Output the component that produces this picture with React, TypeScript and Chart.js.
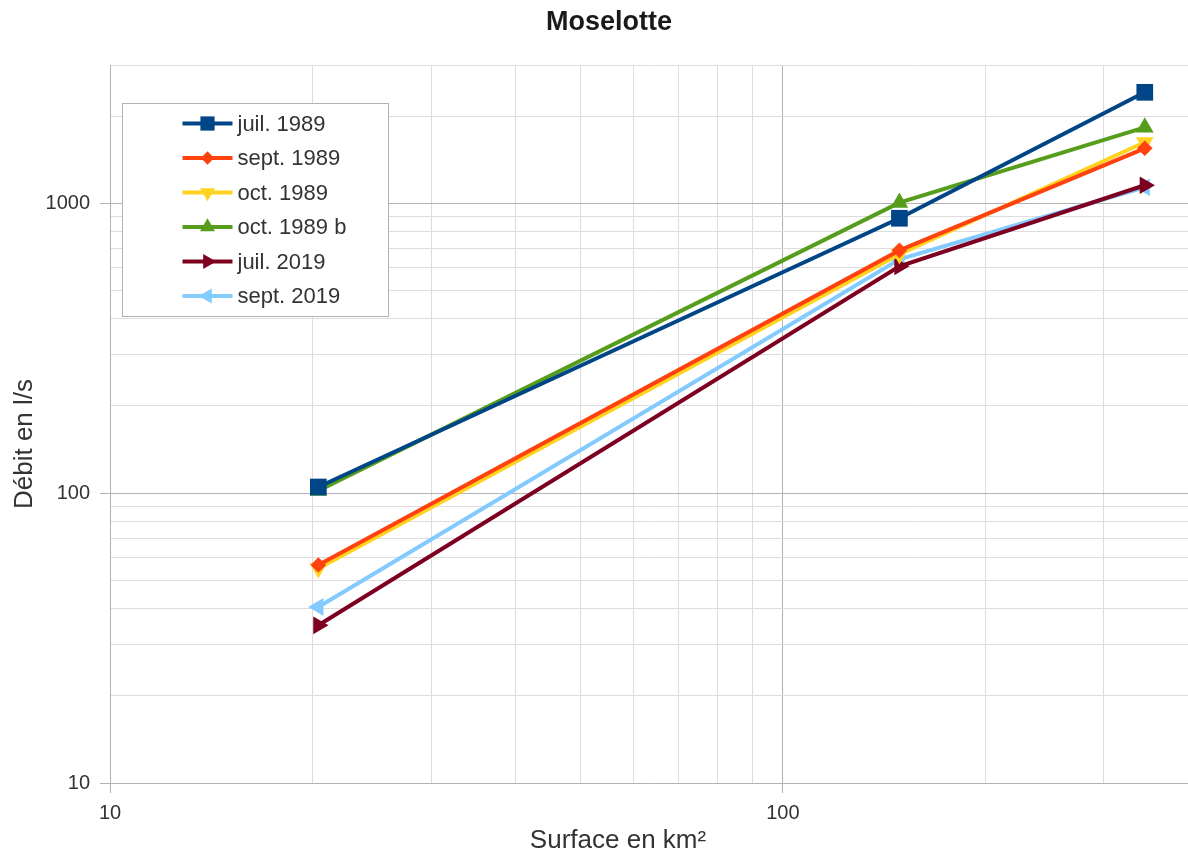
import React, { useEffect, useRef } from 'react';
import { Chart, registerables } from 'chart.js';

Chart.register(...registerables);

// ---------- data ----------
const chartTitle = 'Moselotte';
const xAxisTitle = 'Surface en km²';
const yAxisTitle = 'Débit en l/s';

const surfaces = [20.4, 149, 345];

const seriesNames = ['juil. 1989', 'sept. 1989', 'oct. 1989', 'oct. 1989 b', 'juil. 2019', 'sept. 2019'];
const juil1989 = [105, 888, 2415];
const sept1989 = [56.5, 688, 1548];
const oct1989 = [55, 667, 1624];
const oct1989b = [102, 1005, 1828];
const juil2019 = [35, 606, 1154];
const sept2019 = [40.5, 641, 1136];

const xTickValues = [10, 20, 30, 40, 50, 60, 70, 80, 90, 100, 200, 300, 400];
const yTickValues = [10, 20, 30, 40, 50, 60, 70, 80, 90, 100, 200, 300, 400, 500, 600, 700, 800, 900, 1000, 2000, 3000];
const labeledTicks = [10, 100, 1000];

// ---------- styles ----------
const FONT = '"Liberation Sans", Arial, sans-serif';
const seriesValues = [juil1989, sept1989, oct1989, oct1989b, juil2019, sept2019];
const seriesColors = ['#004586', '#ff420e', '#ffd320', '#579d1c', '#7e0021', '#83caff'];
const seriesShapes = ['rect', 'rectRot', 'triangle', 'triangle', 'triangle', 'triangle'];
const seriesRotations = [0, 0, 180, 0, 90, -90];
const seriesRadii = [11.8, 7.8, 10.2, 10.2, 10.2, 10.2];

const MAJOR_GRID = '#b3b3b3';
const MINOR_GRID = '#dddddd';
const TEXT = '#333333';

function drawMarker(ctx: CanvasRenderingContext2D, shape: string, rotDeg: number, x: number, y: number, r: number, color: string) {
  ctx.save();
  ctx.fillStyle = color;
  ctx.beginPath();
  if (shape === 'rect') {
    const s = r * Math.SQRT1_2;
    ctx.rect(x - s, y - s, 2 * s, 2 * s);
  } else if (shape === 'rectRot') {
    ctx.moveTo(x, y - r);
    ctx.lineTo(x + r, y);
    ctx.lineTo(x, y + r);
    ctx.lineTo(x - r, y);
    ctx.closePath();
  } else {
    let rad = (rotDeg * Math.PI) / 180;
    ctx.moveTo(x + Math.sin(rad) * r, y - Math.cos(rad) * r);
    rad += (2 * Math.PI) / 3;
    ctx.lineTo(x + Math.sin(rad) * r, y - Math.cos(rad) * r);
    rad += (2 * Math.PI) / 3;
    ctx.lineTo(x + Math.sin(rad) * r, y - Math.cos(rad) * r);
    ctx.closePath();
  }
  ctx.fill();
  ctx.restore();
}

const overlayPlugin = {
  id: 'overlay',
  afterDraw(chart: any) {
    const ctx: CanvasRenderingContext2D = chart.ctx;
    const a = chart.chartArea;
    ctx.save();

    // chart title
    ctx.fillStyle = '#1a1a1a';
    ctx.font = `bold 27px ${FONT}`;
    ctx.textAlign = 'center';
    ctx.textBaseline = 'alphabetic';
    ctx.fillText(chartTitle, 609, 30);

    // x axis title
    ctx.fillStyle = TEXT;
    ctx.font = `26px ${FONT}`;
    ctx.fillText(xAxisTitle, 618, 848);

    // y axis title
    ctx.save();
    ctx.translate(32, 444);
    ctx.rotate(-Math.PI / 2);
    ctx.fillText(yAxisTitle, 0, 0);
    ctx.restore();

    // legend
    const bx = a.left + 12.5;
    const by = a.top + 38.5;
    const bw = 266;
    const bh = 213;
    ctx.fillStyle = '#ffffff';
    ctx.fillRect(bx, by, bw, bh);
    ctx.strokeStyle = MAJOR_GRID;
    ctx.lineWidth = 1;
    ctx.strokeRect(bx, by, bw, bh);

    ctx.font = `22px ${FONT}`;
    ctx.textAlign = 'left';
    ctx.textBaseline = 'middle';
    seriesNames.forEach((name, i) => {
      const y = by + 20 + i * 34.5;
      const lx0 = bx + 60;
      const lx1 = bx + 110;
      ctx.strokeStyle = seriesColors[i];
      ctx.lineWidth = 4;
      ctx.beginPath();
      ctx.moveTo(lx0, y);
      ctx.lineTo(lx1, y);
      ctx.stroke();
      drawMarker(ctx, seriesShapes[i], seriesRotations[i], (lx0 + lx1) / 2, y, seriesRadii[i] * 0.85, seriesColors[i]);
      ctx.fillStyle = TEXT;
      ctx.fillText(name, bx + 115, y + 1);
    });

    ctx.restore();
  },
};

const isMajor = (v: number) => labeledTicks.includes(v);

export default function App() {
  const ref = useRef<HTMLCanvasElement>(null);

  useEffect(() => {
    document.body.style.margin = '0';
    document.body.style.overflow = 'hidden';
    document.documentElement.style.overflow = 'hidden';
    const datasets = seriesNames.map((name, i) => ({
      label: name,
      data: surfaces.map((x, j) => ({ x, y: seriesValues[i][j] })),
      borderColor: seriesColors[i],
      backgroundColor: seriesColors[i],
      borderWidth: 4,
      pointStyle: seriesShapes[i] as any,
      pointRotation: seriesRotations[i],
      pointRadius: seriesRadii[i],
      pointBorderWidth: 0,
      pointBackgroundColor: seriesColors[i],
      tension: 0,
      fill: false,
    }));

    const chart = new Chart(ref.current as HTMLCanvasElement, {
      type: 'line',
      data: { datasets },
      plugins: [overlayPlugin],
      options: {
        animation: false,
        responsive: true,
        maintainAspectRatio: false,
        layout: { autoPadding: false, padding: { top: 65, left: 0, right: 0, bottom: 0 } },
        plugins: {
          legend: { display: false },
          title: { display: false },
          tooltip: { enabled: false },
        },
        scales: {
          x: {
            type: 'logarithmic',
            min: 10,
            max: 400,
            afterBuildTicks: (s: any) => {
              s.ticks = xTickValues.map((v) => ({ value: v }));
            },
            afterFit: (s: any) => {
              s.height = 71;
              s.paddingRight = 0;
              s.paddingLeft = 0;
            },
            ticks: {
              autoSkip: false,
              maxRotation: 0,
              minRotation: 0,
              padding: 8,
              color: TEXT,
              font: { family: FONT, size: 20 },
              callback: (v: any) => (isMajor(Number(v)) ? String(v) : ''),
            },
            grid: {
              color: (c: any) => (c.tick && isMajor(c.tick.value) ? MAJOR_GRID : MINOR_GRID),
              tickColor: (c: any) => (c.tick && isMajor(c.tick.value) ? MAJOR_GRID : 'rgba(0,0,0,0)'),
              tickLength: 10,
              lineWidth: 1,
            },
            border: { color: MAJOR_GRID, width: 1 },
          },
          y: {
            type: 'logarithmic',
            min: 10,
            max: 3000,
            afterBuildTicks: (s: any) => {
              s.ticks = yTickValues.map((v) => ({ value: v }));
            },
            afterFit: (s: any) => {
              s.width = 110;
            },
            ticks: {
              autoSkip: false,
              padding: 10,
              color: TEXT,
              font: { family: FONT, size: 20 },
              callback: (v: any) => (isMajor(Number(v)) ? String(v) : ''),
            },
            grid: {
              color: (c: any) => (c.tick && isMajor(c.tick.value) ? MAJOR_GRID : MINOR_GRID),
              tickColor: (c: any) => (c.tick && isMajor(c.tick.value) ? MAJOR_GRID : 'rgba(0,0,0,0)'),
              tickLength: 10,
              lineWidth: 1,
            },
            border: { color: MAJOR_GRID, width: 1 },
          },
        },
      } as any,
    });
    return () => chart.destroy();
  }, []);

  return (
    <div style={{ position: 'relative', width: 1188, height: 854, overflow: 'hidden' }}>
      <canvas ref={ref} style={{ display: 'block' }} />
    </div>
  );
}
